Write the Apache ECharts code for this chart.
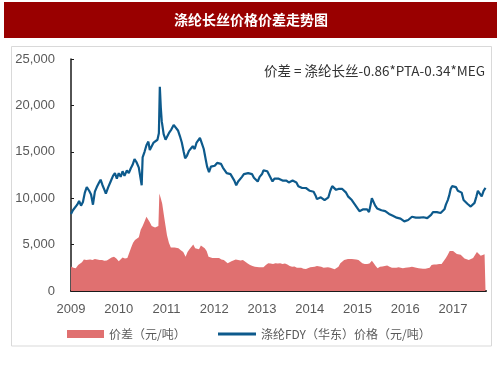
<!DOCTYPE html>
<html>
<head>
<meta charset="utf-8">
<script src="https://cdn.jsdelivr.net/npm/echarts@6/dist/echarts.min.js"></script>
<style>
html,body{margin:0;padding:0;background:#fff;}
#c{width:503px;height:378px;}
</style>
</head>
<body>
<div id="c"></div>
<script>
var titleText = '涤纶长丝价格价差走势图';
var noteText = '价差 = 涤纶长丝-0.86*PTA-0.34*MEG';
var spreadName = '价差（元/吨）';
var priceName = '涤纶FDY（华东）价格（元/吨）';
var yearTicks = [2009, 2010, 2011, 2012, 2013, 2014, 2015, 2016, 2017];

var priceT = [2009.00,2009.04,2009.08,2009.13,2009.17,2009.21,2009.25,2009.29,2009.33,2009.38,2009.42,2009.46,2009.50,2009.54,2009.58,2009.62,2009.66,2009.70,2009.73,2009.78,2009.83,2009.88,2009.92,2009.96,
2010.00,2010.04,2010.08,2010.12,2010.17,2010.21,2010.25,2010.29,2010.33,2010.37,2010.42,2010.46,2010.48,2010.50,2010.54,2010.58,2010.62,2010.65,2010.69,2010.73,2010.77,2010.81,2010.84,2010.86,2010.88,2010.90,2010.94,2010.98,
2011.02,2011.06,2011.10,2011.15,2011.19,2011.24,2011.28,2011.32,2011.36,2011.39,2011.43,2011.47,2011.51,2011.55,2011.59,2011.63,2011.67,2011.70,2011.74,2011.78,2011.82,2011.85,2011.89,2011.93,2011.97,
2012.01,2012.06,2012.10,2012.14,2012.18,2012.22,2012.26,2012.30,2012.34,2012.38,2012.42,2012.46,2012.50,2012.54,2012.58,2012.62,2012.66,2012.71,2012.75,2012.79,2012.83,2012.87,2012.91,2012.95,
2013.00,2013.03,2013.07,2013.11,2013.15,2013.19,2013.22,2013.26,2013.30,2013.35,2013.39,2013.43,2013.47,2013.51,2013.56,2013.60,2013.64,2013.68,2013.72,2013.76,2013.80,2013.84,2013.88,2013.92,2013.96,
2014.00,2014.04,2014.08,2014.12,2014.15,2014.19,2014.23,2014.27,2014.31,2014.35,2014.39,2014.43,2014.47,2014.51,2014.55,2014.60,2014.64,2014.68,2014.72,2014.76,2014.80,2014.84,2014.88,2014.92,2014.96,
2015.00,2015.04,2015.08,2015.12,2015.16,2015.20,2015.24,2015.27,2015.30,2015.33,2015.37,2015.41,2015.45,2015.50,2015.54,2015.58,2015.62,2015.66,2015.70,2015.74,2015.78,2015.82,2015.86,2015.90,2015.94,2015.98,
2016.02,2016.06,2016.10,2016.14,2016.18,2016.22,2016.26,2016.30,2016.34,2016.38,2016.42,2016.46,2016.50,2016.54,2016.58,2016.62,2016.66,2016.70,2016.74,2016.78,2016.82,2016.85,2016.89,2016.92,2016.95,2016.98,
2017.02,2017.06,2017.10,2017.14,2017.18,2017.22,2017.26,2017.30,2017.34,2017.37,2017.41,2017.45,2017.49,2017.52,2017.56,2017.60,2017.64,2017.68];
var priceV = [8300,8700,8500,9300,9700,9200,9600,10600,11200,10800,10400,9300,10700,11200,11600,12000,11400,10900,10500,11200,11800,12400,12700,12100,
12700,12300,12900,12400,13000,12700,13200,13600,14200,13900,13300,13500,11400,14400,15000,15700,16100,15200,15600,16000,16200,16300,17000,22000,19800,18300,16900,16300,
16500,17100,17400,17900,17800,17300,16700,16000,15000,14300,14600,15100,14900,15600,15300,16000,16100,16500,15900,15300,14200,13400,12800,13400,13600,
13500,13800,14000,13700,13300,13200,12700,12800,12600,12400,11900,11400,11800,11900,12300,12600,12400,12700,12500,12600,12200,12000,11800,12300,
12600,13000,12800,12900,12500,12100,11800,12100,12300,12100,12000,11900,11800,11900,11700,11900,11900,12000,11700,11300,11200,11100,11000,11100,10900,
10800,10900,10700,10300,9900,10000,10100,10000,9800,9600,10100,10800,11300,11200,10900,11000,11100,11000,10800,10600,10200,10000,9800,9500,9200,
8900,8600,8700,8800,8700,8800,8500,9200,10000,9800,9200,8900,8800,8700,8800,8600,8400,8300,8200,8100,8000,7900,7950,7800,7700,7500,
7600,7650,7700,8000,8150,7900,7850,7900,7800,7950,7900,7850,7900,8200,8500,8400,8500,8600,8400,8400,8800,9300,9800,10300,11000,11300,
11100,11200,10800,11000,10600,9800,9600,9400,9300,9100,9300,9500,10200,10800,10500,10200,10800,11100];

var spreadT = [2009.00,2009.05,2009.10,2009.15,2009.19,2009.23,2009.27,2009.32,2009.36,2009.40,2009.45,2009.50,2009.55,2009.60,2009.65,2009.70,2009.75,2009.80,2009.85,2009.90,2009.95,
2010.00,2010.04,2010.08,2010.13,2010.18,2010.22,2010.26,2010.30,2010.34,2010.38,2010.42,2010.46,2010.50,2010.54,2010.58,2010.62,2010.65,2010.69,2010.72,2010.76,2010.80,2010.83,2010.85,2010.88,2010.91,2010.95,2010.98,
2011.01,2011.05,2011.09,2011.13,2011.17,2011.21,2011.25,2011.30,2011.35,2011.40,2011.44,2011.48,2011.52,2011.56,2011.60,2011.64,2011.68,2011.72,2011.76,2011.80,2011.84,2011.88,2011.92,2011.96,
2012.00,2012.05,2012.10,2012.15,2012.20,2012.24,2012.28,2012.32,2012.36,2012.40,2012.45,2012.50,2012.55,2012.60,2012.65,2012.70,2012.75,2012.80,2012.85,2012.89,2012.94,2012.98,
2013.03,2013.08,2013.13,2013.18,2013.23,2013.28,2013.33,2013.38,2013.43,2013.48,2013.53,2013.58,2013.63,2013.68,2013.73,2013.77,2013.82,2013.87,2013.92,2013.96,
2014.01,2014.05,2014.10,2014.15,2014.19,2014.24,2014.29,2014.33,2014.38,2014.43,2014.47,2014.52,2014.56,2014.60,2014.64,2014.68,2014.72,2014.76,2014.80,2014.84,2014.88,2014.92,2014.97,
2015.02,2015.06,2015.10,2015.15,2015.20,2015.25,2015.30,2015.34,2015.38,2015.42,2015.47,2015.52,2015.57,2015.62,2015.67,2015.72,2015.76,2015.81,2015.86,2015.90,2015.95,
2016.00,2016.04,2016.09,2016.14,2016.18,2016.23,2016.28,2016.32,2016.37,2016.42,2016.46,2016.51,2016.55,2016.60,2016.65,2016.71,2016.76,2016.80,2016.85,2016.89,2016.93,2016.96,
2017.00,2017.04,2017.08,2017.12,2017.16,2017.20,2017.24,2017.28,2017.33,2017.37,2017.42,2017.46,2017.50,2017.54,2017.58,2017.62,2017.66,2017.68];
var spreadV = [2650,2500,2450,2800,3000,3100,3400,3350,3450,3400,3350,3450,3400,3350,3350,3250,3300,3450,3600,3700,3500,
3200,3350,3600,3500,3550,3600,4700,5200,5500,5650,5800,6600,7000,7500,8000,8000,7400,7000,6900,6850,6850,7000,10500,10000,9400,8000,7000,
6000,5200,4700,4600,4700,4800,4600,4400,4200,3700,4200,4500,4600,5000,4600,4400,4500,4900,4800,4600,4300,3700,3600,3550,
3500,3550,3550,3400,3350,3300,3000,2800,3200,3350,3400,3350,3300,3350,3150,2950,2800,2700,2600,2500,2550,2500,
2550,2800,3000,2950,2900,3000,2950,3000,2900,2950,2850,2700,2600,2650,2500,2450,2500,2400,2380,2450,
2550,2650,2600,2700,2750,2600,2500,2450,2550,2500,2500,2350,2150,2600,3000,3200,3350,3400,3450,3450,3460,3450,3400,
3350,3200,3000,2900,2900,2950,3250,3000,2700,2450,2600,2650,2700,2750,2600,2500,2450,2500,2550,2500,2450,
2500,2450,2550,2600,2630,2500,2450,2450,2400,2400,2380,2500,2800,2850,2850,2900,2900,3100,3550,3900,4300,4450,
4300,4200,4000,4100,3900,3700,3500,3400,3350,3400,3550,3700,4200,4000,3800,3700,3950,3900];

function pairs(t, v) { return t.map(function (x, i) { return [x, v[i]]; }); }

var chart = echarts.init(document.getElementById('c'), null, {renderer: 'canvas'});
var axisFont = {color: '#595959', fontSize: 13, fontFamily: 'Liberation Sans, Arial, sans-serif'};
chart.setOption({
  animation: false,
  backgroundColor: '#fff',
  grid: {left: 71, right: 17, top: 59, bottom: 87, containLabel: false},
  xAxis: {
    type: 'value', min: 2009, max: 2017.69, interval: 1,
    splitLine: {show: false},
    axisLine: {lineStyle: {color: '#1a1a1a', width: 2}},
    axisTick: {inside: true, length: 4, lineStyle: {color: '#1a1a1a'}, customValues: yearTicks},
    axisLabel: Object.assign({margin: 12, customValues: yearTicks,
      formatter: function (v) { return Math.abs(v - Math.round(v)) < 1e-6 ? String(Math.round(v)) : ''; }}, axisFont)
  },
  yAxis: {
    type: 'value', min: 0, max: 25000, interval: 5000,
    splitLine: {show: false},
    axisLine: {show: true, lineStyle: {color: '#1a1a1a', width: 1.5}},
    axisTick: {show: true, inside: true, length: 3, lineStyle: {color: '#1a1a1a'}},
    axisLabel: Object.assign({margin: 16, formatter: function (v) { return v.toLocaleString('en-US'); }}, axisFont)
  },
  legend: [
    {data: [spreadName], left: 62, top: 323, icon: 'rect', itemWidth: 37, itemHeight: 8, itemGap: 5,
     textStyle: {color: '#595959', fontSize: 12, fontFamily: 'Noto Sans CJK SC'}},
    {data: [priceName], left: 213, top: 323, icon: 'rect', itemWidth: 38, itemHeight: 3, itemGap: 5,
     textStyle: {color: '#595959', fontSize: 12, fontFamily: 'Noto Sans CJK SC'}}
  ],
  series: [
    {name: spreadName, type: 'line', data: pairs(spreadT, spreadV), symbol: 'none',
     lineStyle: {width: 0, color: '#e07070'}, itemStyle: {color: '#e07070'},
     areaStyle: {color: '#e07070', opacity: 1}, z: 1},
    {name: priceName, type: 'line', data: pairs(priceT, priceV), symbol: 'none',
     lineStyle: {width: 2.2, color: '#0d5a8c'}, itemStyle: {color: '#0d5a8c'}, z: 3}
  ],
  graphic: [
    {type: 'rect', shape: {x: 4, y: 2, width: 493, height: 36}, style: {fill: '#990000'}, silent: true},
    {type: 'text', x: 251, y: 20, style: {text: titleText, fill: '#fff', fontSize: 14, fontWeight: 'bold',
      fontFamily: 'Noto Sans CJK SC', textAlign: 'center', textVerticalAlign: 'middle'}},
    {type: 'rect', shape: {x: 11.5, y: 46.5, width: 480, height: 299.5}, style: {fill: null, stroke: '#d9d9d9', lineWidth: 1}, silent: true},
    {type: 'text', x: 485, y: 71, style: {text: noteText, fill: '#333', fontSize: 13.5,
      fontFamily: 'Noto Sans CJK SC', textAlign: 'right', textVerticalAlign: 'middle'}}
  ]
});
</script>
</body>
</html>
